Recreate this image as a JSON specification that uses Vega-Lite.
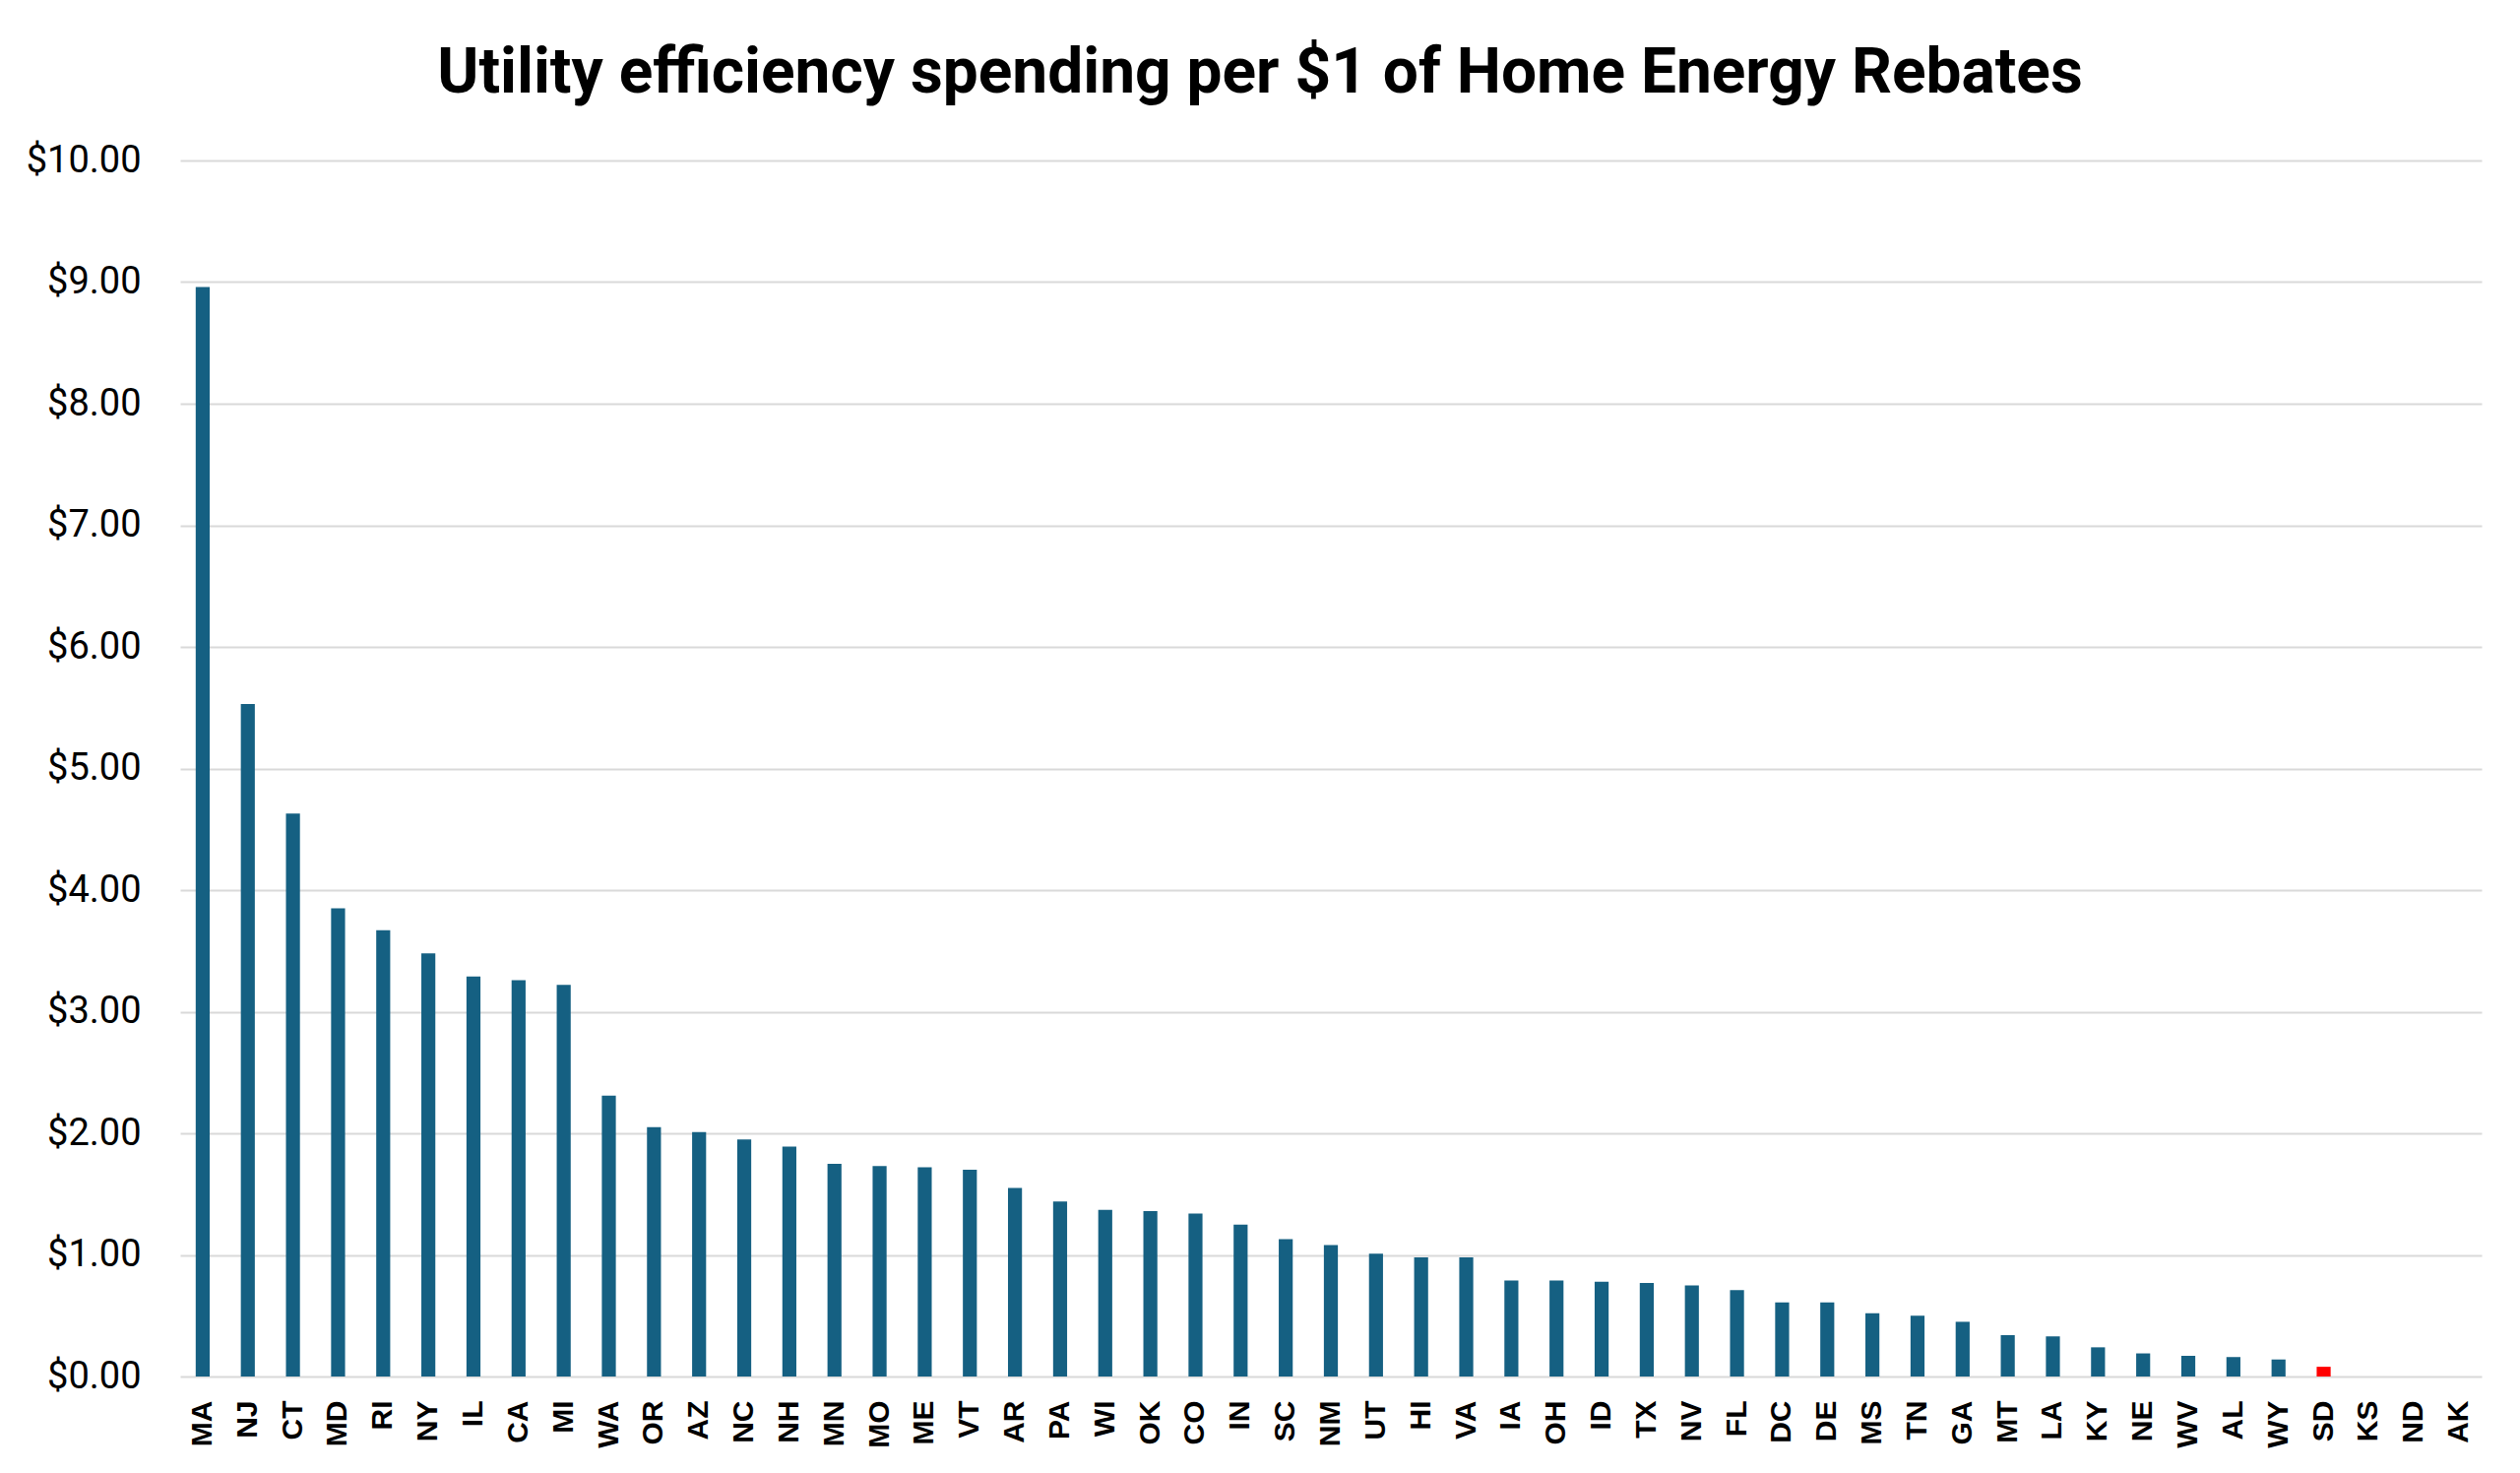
{
  "$schema": "https://vega.github.io/schema/vega-lite/v6.json",
  "description": "Utility efficiency spending per $1 of Home Energy Rebates, by state",
  "autosize": "none",
  "width": 2338,
  "height": 1235,
  "padding": {"left": 183, "top": 163, "right": 39, "bottom": 98},
  "background": "white",
  "title": {
    "text": "Utility efficiency spending per $1 of Home Energy Rebates",
    "font": "Liberation Sans Narrow, Roboto",
    "fontSize": 64,
    "fontWeight": "bold",
    "color": "black",
    "anchor": "middle",
    "frame": "group",
    "dx": -72,
    "dy": 64,
    "baseline": "alphabetic",
    "offset": 50
  },
  "data": {
    "values": [
      {"state": "MA", "ratio": 8.96},
      {"state": "NJ", "ratio": 5.53},
      {"state": "CT", "ratio": 4.63},
      {"state": "MD", "ratio": 3.85},
      {"state": "RI", "ratio": 3.67},
      {"state": "NY", "ratio": 3.48},
      {"state": "IL", "ratio": 3.29},
      {"state": "CA", "ratio": 3.26},
      {"state": "MI", "ratio": 3.22},
      {"state": "WA", "ratio": 2.31},
      {"state": "OR", "ratio": 2.05},
      {"state": "AZ", "ratio": 2.01},
      {"state": "NC", "ratio": 1.95},
      {"state": "NH", "ratio": 1.89},
      {"state": "MN", "ratio": 1.75},
      {"state": "MO", "ratio": 1.73},
      {"state": "ME", "ratio": 1.72},
      {"state": "VT", "ratio": 1.70},
      {"state": "AR", "ratio": 1.55},
      {"state": "PA", "ratio": 1.44},
      {"state": "WI", "ratio": 1.37},
      {"state": "OK", "ratio": 1.36},
      {"state": "CO", "ratio": 1.34},
      {"state": "IN", "ratio": 1.25},
      {"state": "SC", "ratio": 1.13},
      {"state": "NM", "ratio": 1.08},
      {"state": "UT", "ratio": 1.01},
      {"state": "HI", "ratio": 0.98},
      {"state": "VA", "ratio": 0.98},
      {"state": "IA", "ratio": 0.79},
      {"state": "OH", "ratio": 0.79},
      {"state": "ID", "ratio": 0.78},
      {"state": "TX", "ratio": 0.77},
      {"state": "NV", "ratio": 0.75},
      {"state": "FL", "ratio": 0.71},
      {"state": "DC", "ratio": 0.61},
      {"state": "DE", "ratio": 0.61},
      {"state": "MS", "ratio": 0.52},
      {"state": "TN", "ratio": 0.50},
      {"state": "GA", "ratio": 0.45},
      {"state": "MT", "ratio": 0.34},
      {"state": "LA", "ratio": 0.33},
      {"state": "KY", "ratio": 0.24},
      {"state": "NE", "ratio": 0.19},
      {"state": "WV", "ratio": 0.17},
      {"state": "AL", "ratio": 0.16},
      {"state": "WY", "ratio": 0.14},
      {"state": "SD", "ratio": 0.08},
      {"state": "KS", "ratio": 0},
      {"state": "ND", "ratio": 0},
      {"state": "AK", "ratio": 0}
    ]
  },
  "mark": {"type": "bar"},
  "encoding": {
    "x": {
      "field": "state",
      "type": "nominal",
      "sort": null,
      "title": null,
      "scale": {"paddingInner": 0.69, "paddingOuter": 0.345},
      "axis": {
        "labelAngle": -90,
        "labelAlign": "right",
        "labelBaseline": "middle",
        "labelFont": "Liberation Sans",
        "labelFontWeight": "bold",
        "labelFontSize": 30,
        "labelColor": "black",
        "labelPadding": 24,
        "ticks": false,
        "domain": false,
        "grid": false
      }
    },
    "y": {
      "field": "ratio",
      "type": "quantitative",
      "title": null,
      "scale": {"domain": [0, 10], "nice": false},
      "axis": {
        "values": [0, 1, 2, 3, 4, 5, 6, 7, 8, 9, 10],
        "format": "$.2f",
        "labelFont": "Roboto",
        "labelFontSize": 38,
        "labelColor": "black",
        "labelPadding": 40,
        "ticks": false,
        "domain": false,
        "grid": true,
        "gridColor": "#d9d9d9",
        "gridWidth": 2
      }
    },
    "color": {
      "condition": {"test": "datum.state === 'SD'", "value": "#ff0000"},
      "value": "#156082"
    }
  },
  "config": {
    "view": {"stroke": null}
  }
}
